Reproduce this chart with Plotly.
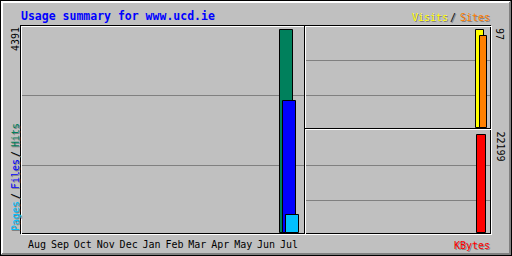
import plotly.graph_objects as go

# ---- data ----
months = ["Aug", "Sep", "Oct", "Nov", "Dec", "Jan", "Feb", "Mar", "Apr", "May", "Jun", "Jul"]
hits = [0, 0, 0, 0, 0, 0, 0, 0, 0, 0, 0, 4391]
files = [0, 0, 0, 0, 0, 0, 0, 0, 0, 0, 0, 2859]
pages = [0, 0, 0, 0, 0, 0, 0, 0, 0, 0, 0, 378]
visits = [0, 0, 0, 0, 0, 0, 0, 0, 0, 0, 0, 97]
sites = [0, 0, 0, 0, 0, 0, 0, 0, 0, 0, 0, 91]
kbytes = [0, 0, 0, 0, 0, 0, 0, 0, 0, 0, 0, 22199]
title_text = "Usage summary for www.ucd.ie"

W, H = 512, 256
BG = "#C0C0C0"
DK = "#808080"
C_HITS, C_FILES, C_PAGES = "#00805C", "#0000FF", "#00C0FF"
C_VISITS, C_SITES, C_KB = "#FFFF00", "#FF8000", "#FF0000"
MONO = "DejaVu Sans Mono"


def px(x):
    return x / W


def py(y):
    return 1 - y / H


idx = list(range(len(months)))

# left panel geometry (pixels)
L_X0, L_X1, L_Y0, L_Y1 = 21, 304, 26, 233
L_STEP, L_C0 = 22.909, 37.0
# right panels
R_X0, R_X1 = 306, 490
R_STEP, R_CJUL = 15.0, 481.0
T_Y0, T_Y1 = 26, 128
B_Y0, B_Y1 = 130, 233


def lrange():
    return [(L_X0 - L_C0) / L_STEP, (L_X1 - L_C0) / L_STEP]


def rrange():
    n = len(months) - 1
    return [n + (R_X0 - R_CJUL) / R_STEP, n + (R_X1 - R_CJUL) / R_STEP]


def ymax(vmax, y0, y1, top_px):
    return vmax * (y1 - y0) / (y1 - top_px)


fig = go.Figure()

line = dict(color="black", width=1)


def bar(y, color, offpx, widthpx, step, xa, ya):
    # empty months draw no bar at all
    yv = [v if v else None for v in y]
    fig.add_trace(go.Bar(
        x=idx, y=yv, xaxis=xa, yaxis=ya,
        offset=offpx / step, width=widthpx / step,
        marker=dict(color=color, line=line),
        showlegend=False, hoverinfo="skip"))


bar(hits, C_HITS, -9.5, 13, L_STEP, "x", "y")
bar(files, C_FILES, -6.5, 13, L_STEP, "x", "y")
bar(pages, C_PAGES, -3.5, 13, L_STEP, "x", "y")
bar(visits, C_VISITS, -5.5, 8, R_STEP, "x2", "y2")
bar(sites, C_SITES, -1.5, 7, R_STEP, "x2", "y2")
bar(kbytes, C_KB, -4.5, 9, R_STEP, "x3", "y3")

ax_common = dict(showgrid=False, zeroline=False, showline=False, fixedrange=True)

fig.update_layout(
    width=W, height=H, margin=dict(l=0, r=0, t=0, b=0),
    paper_bgcolor=BG, plot_bgcolor="rgba(0,0,0,0)",
    barmode="overlay", bargap=0,
    xaxis=dict(domain=[px(L_X0), px(L_X1)], range=lrange(), anchor="y",
               tickmode="array", tickvals=idx, ticktext=months, ticks="",
               ticklabelstandoff=4,
               tickfont=dict(family=MONO, size=10, color="black"), **ax_common),
    yaxis=dict(domain=[py(L_Y1), py(L_Y0)],
               range=[0, ymax(max(hits), L_Y0, L_Y1, 29.5)], anchor="x",
               showticklabels=False, **ax_common),
    xaxis2=dict(domain=[px(R_X0), px(R_X1)], range=rrange(), anchor="y2",
                showticklabels=False, **ax_common),
    yaxis2=dict(domain=[py(T_Y1), py(T_Y0)],
                range=[0, ymax(max(visits), T_Y0, T_Y1, 29.5)], anchor="x2",
                showticklabels=False, **ax_common),
    xaxis3=dict(domain=[px(R_X0), px(R_X1)], range=rrange(), anchor="y3",
                showticklabels=False, **ax_common),
    yaxis3=dict(domain=[py(B_Y1), py(B_Y0)],
                range=[0, ymax(max(kbytes), B_Y0, B_Y1, 134.5)], anchor="x3",
                showticklabels=False, **ax_common),
)

shapes = []


def rect(x0, y0, x1, y1, color):
    # pixel-edge rectangle, filled
    shapes.append(dict(type="rect", xref="paper", yref="paper",
                       x0=px(x0), x1=px(x1), y0=py(y1), y1=py(y0),
                       fillcolor=color, line=dict(width=0), layer="below"))


def hline(row, c0, c1, color):
    rect(c0, row, c1 + 1, row + 1, color)


def vline(col, r0, r1, color):
    rect(col, r0, col + 1, r1 + 1, color)


# outer frame
hline(1, 1, 510, "white"); hline(2, 1, 509, "white")
vline(1, 1, 254, "white"); vline(2, 1, 253, "white")
hline(254, 1, 510, DK); hline(253, 2, 510, DK)
vline(510, 1, 254, DK); vline(509, 2, 254, DK)
hline(0, 0, 511, "black"); hline(255, 0, 511, "black")
vline(0, 0, 255, "black"); vline(511, 0, 255, "black")

# gridlines
for r in (95, 165):
    hline(r, 22, 303, DK)
for r in (60, 95):
    hline(r, 306, 489, DK)
for r in (165, 200):
    hline(r, 306, 489, DK)

# graph area grooves
hline(25, 20, 490, "black"); vline(20, 25, 233, "black")
vline(490, 25, 233, "black"); hline(233, 20, 490, "black")
hline(26, 21, 491, "white"); vline(21, 26, 234, "white")
vline(491, 26, 234, "white"); hline(234, 21, 491, "white")
vline(304, 25, 233, "black"); vline(305, 26, 234, "white")
hline(128, 305, 490, "black"); hline(129, 306, 491, "white")

fig.update_layout(shapes=shapes)

anns = []


def text(t, x, y, color, size=10, angle=0, shadow=False, anchor="center", bold=False):
    items = []
    if shadow:
        items.append((x + 1, y + 1, DK))
    items.append((x, y, color))
    for (xx, yy, cc) in items:
        anns.append(dict(text=t, x=px(xx), y=py(yy), xref="paper", yref="paper",
                         xanchor=anchor, yanchor="middle", showarrow=False,
                         textangle=angle, borderpad=0,
                         font=dict(family=MONO, size=size, color=cc,
                                   weight="bold" if bold else "normal")))


text(title_text, 20, 15.5, "#0000FF", size=11.5, anchor="left", bold=True)
text("Visits", 430, 17.5, C_VISITS, shadow=True)
text("/", 453, 17.5, "black", shadow=True)
text("Sites", 474.5, 17.5, C_SITES, shadow=True)
text("KBytes", 471.5, 245, C_KB, shadow=True)
text(str(max(visits)), 500, 34, "black", angle=90)
text(str(max(kbytes)), 500, 146.5, "black", angle=90)
text(str(max(hits)), 15, 39, "black", angle=-90)
text("Pages", 15, 216, C_PAGES, angle=-90, shadow=True)
text("/", 15, 196, "black", angle=-90, shadow=True)
text("Files", 15, 174, C_FILES, angle=-90, shadow=True)
text("/", 15, 154, "black", angle=-90, shadow=True)
text("Hits", 15, 135, C_HITS, angle=-90, shadow=True)

fig.update_layout(annotations=anns)

fig.write_html("out.html")
